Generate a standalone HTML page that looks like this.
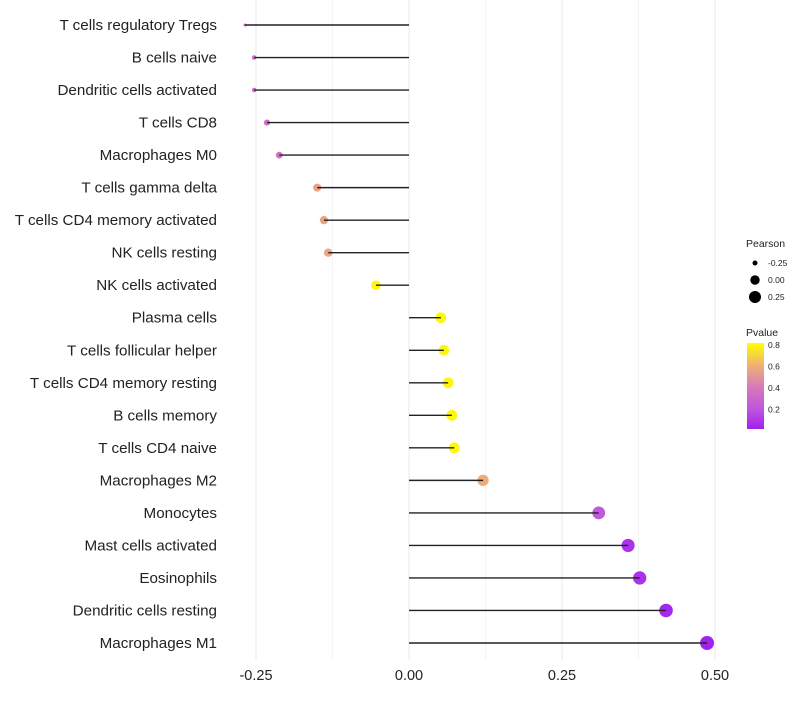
<!DOCTYPE html>
<html><head><meta charset="utf-8"><style>
body{margin:0;background:#fff;font-family:"Liberation Sans",sans-serif}
</style></head><body>
<svg id="chart" width="800" height="700" xmlns="http://www.w3.org/2000/svg">
<g id="grid"></g><g id="marks"></g><g id="labels"></g><g id="legend"></g>
</svg>
<script>
const categories=["T cells regulatory  Tregs","B cells naive","Dendritic cells activated","T cells CD8","Macrophages M0","T cells gamma delta","T cells CD4 memory activated","NK cells resting","NK cells activated","Plasma cells","T cells follicular helper","T cells CD4 memory resting","B cells memory","T cells CD4 naive","Macrophages M2","Monocytes","Mast cells activated","Eosinophils","Dendritic cells resting","Macrophages M1"];
const pearson=[-0.268,-0.253,-0.253,-0.232,-0.212,-0.150,-0.139,-0.132,-0.054,0.052,0.057,0.064,0.070,0.074,0.121,0.310,0.358,0.377,0.420,0.487];
const pvalue=[0.3,0.34,0.34,0.34,0.36,0.56,0.57,0.58,0.8,0.8,0.8,0.8,0.8,0.8,0.6,0.22,0.08,0.08,0.05,0.03];
const xTicks=[-0.25,0,0.25,0.5];
const xTickLabels=["-0.25","0.00","0.25","0.50"];
const NS="http://www.w3.org/2000/svg";
const x=v=>409+v*612;
const y=i=>25+i*(618/19);
const r=p=>{const d=p+0.253;return d<0?1.5:2.3+4.7*Math.sqrt(d/0.74);};
const stops=[[0.02,[160,32,240]],[0.2,[192,84,222]],[0.4,[214,120,186]],[0.6,[238,172,120]],[0.82,[255,255,0]]];
function col(p){p=Math.max(0.02,Math.min(0.82,p));for(let k=0;k<stops.length-1;k++){const a=stops[k],b=stops[k+1];if(p<=b[0]){const t=(p-a[0])/(b[0]-a[0]);return "rgb("+a[1].map((c,j)=>Math.round(c+(b[1][j]-c)*t)).join(",")+")";}}return "rgb(255,255,0)";}
function el(tag,attrs,parent,text){const e=document.createElementNS(NS,tag);for(const k in attrs)e.setAttribute(k,attrs[k]);if(text!==undefined)e.textContent=text;document.getElementById(parent).appendChild(e);return e;}
[-0.125,0.125,0.375].concat(xTicks).forEach(v=>{const g=el("line",{x1:x(v),x2:x(v),y1:0,y2:660,stroke:"#ececec","stroke-width":xTicks.includes(v)?1.2:0.6},"grid");

});
xTicks.forEach((v,i)=>{const t=el("text",{x:x(v),y:680,"text-anchor":"middle","font-size":"14.5",fill:"#222"},"labels",xTickLabels[i]);

});
categories.forEach((c,i)=>{
const t=el("text",{x:217,y:y(i)+5,"text-anchor":"end","font-size":"15.2",fill:"#222"},"labels",c);


const d=el("circle",{cx:x(pearson[i]),cy:y(i),r:r(pearson[i]),fill:col(pvalue[i])},"marks");


const l=el("line",{x1:x(0),x2:x(pearson[i]),y1:y(i),y2:y(i),stroke:"#222","stroke-width":1.4},"marks");


});
const lt=el("text",{x:746,y:247,"font-size":"10.5",fill:"#222"},"legend","Pearson");


[-0.25,0,0.25].forEach((v,i)=>{const cy=263+i*17;
const c=el("circle",{cx:755,cy:cy,r:[2.5,4.7,6][i],fill:"#000"},"legend");


const t=el("text",{x:768,y:cy+3,"font-size":"8.5",fill:"#222"},"legend",["-0.25","0.00","0.25"][i]);

});
const pt=el("text",{x:746,y:336,"font-size":"10.5",fill:"#222"},"legend","Pvalue");


const defs=el("defs",{},"legend");
const lg=document.createElementNS(NS,"linearGradient");lg.setAttribute("id","pg");lg.setAttribute("x1","0");lg.setAttribute("y1","1");lg.setAttribute("x2","0");lg.setAttribute("y2","0");defs.appendChild(lg);
stops.forEach(s=>{const st=document.createElementNS(NS,"stop");st.setAttribute("offset",((s[0]-0.02)/0.8));st.setAttribute("stop-color","rgb("+s[1].join(",")+")");lg.appendChild(st);});
const bar=el("rect",{x:747,y:343,width:17,height:86,fill:"url(#pg)"},"legend");


[0.8,0.6,0.4,0.2].forEach(v=>{const yy=429-(v-0.02)/0.8*86;
const t=el("text",{x:768,y:yy+3,"font-size":"8.5",fill:"#222"},"legend",v.toFixed(1));

});
</script>
</body></html>
